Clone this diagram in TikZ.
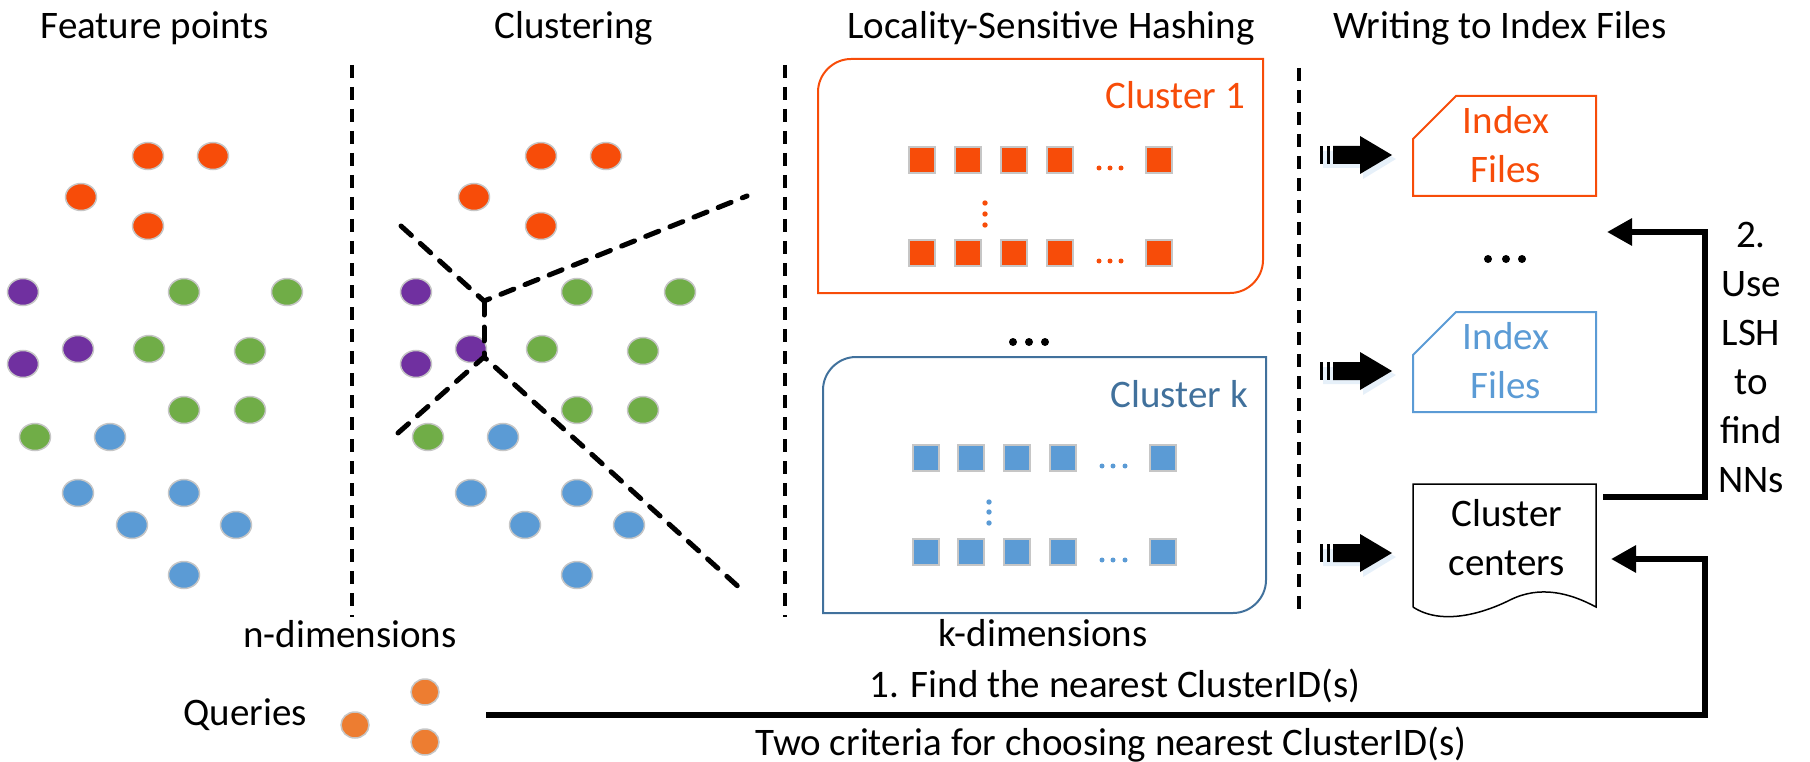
\documentclass[tikz,border=0pt]{standalone}
\usepackage{fontspec}
\setmainfont{Carlito}
\usetikzlibrary{arrows.meta}

\definecolor{hotorange}{RGB}{247,76,9}
\definecolor{qorange}{RGB}{237,125,49}
\definecolor{leafgreen}{RGB}{112,173,71}
\definecolor{plum}{RGB}{112,48,160}
\definecolor{skyblue}{RGB}{91,155,213}
\definecolor{deepblue}{RGB}{65,113,156}

% block arrow into the index column, #1 = y of its axis
\newcommand{\writearrow}[1]{%
  \fill[skyblue!25, opacity=0.6] (1323,#1-4) -- (1363,#1-4) -- (1363,#1-15) -- (1396,#1+4)
    -- (1363,#1+24) -- (1363,#1+13) -- (1323,#1+13) -- cycle;
  \fill (1320,#1-9) rectangle (1323,#1+9);
  \fill (1326.5,#1-9) rectangle (1330,#1+9);
  \fill (1333,#1-9) -- (1360,#1-9) -- (1360,#1-19) -- (1392,#1) -- (1360,#1+19)
    -- (1360,#1+9) -- (1333,#1+9) -- cycle;
}

\begin{document}
\begin{tikzpicture}[x=1pt,y=-1pt,
    txt/.style={font=\fontsize{39}{49}\selectfont, inner sep=0pt, anchor=base},
    multi/.style={font=\fontsize{39}{49}\selectfont, inner sep=0pt, align=center},
    sep/.style={line width=3.6pt, dash pattern=on 13pt off 9pt},
    cut/.style={line width=5pt, line cap=round, dash pattern=on 14pt off 12pt},
    dot/.style={draw=gray!45, line width=1.5pt},
    hashbox/.style={draw=gray!45, line width=1.5pt, minimum size=26pt, inner sep=0pt},
    conn/.style={line width=6pt, -{Triangle[length=25pt,width=26pt]}}]
  \useasboundingbox (0,0) rectangle (1810,762);

  % titles
  \node[txt] (tfeat) at (155,39) {Feature points};
  \node[txt] (tclus) at (574,39) {Clustering};
  \node[txt] (tlsh) at (1051,39) {Locality-Sensitive Hashing};
  \node[txt] (twrite) at (1500,39) {Writing to Index Files};

  % separators
  \draw[sep] (352,65) -- (352,617);
  \draw[sep] (785,65) -- (785,617);
  \draw[sep] (1299,68) -- (1299,612);

  % points, raw and clustered
  \foreach \dx in {0,393} {
    \foreach \px/\py in {148/156,213/156,81/197,148/226}
      \filldraw[dot, fill=hotorange] (\px+\dx,\py) ellipse [x radius=15.5, y radius=13.5];
    \foreach \px/\py in {23/292,78/349,23/364}
      \filldraw[dot, fill=plum] (\px+\dx,\py) ellipse [x radius=15.5, y radius=13.5];
    \foreach \px/\py in {184/292,287/292,149/349,250/351,184/410,250/410,35/437}
      \filldraw[dot, fill=leafgreen] (\px+\dx,\py) ellipse [x radius=15.5, y radius=13.5];
    \foreach \px/\py in {110/437,78/493,184/493,132/525,236/525,184/575}
      \filldraw[dot, fill=skyblue] (\px+\dx,\py) ellipse [x radius=15.5, y radius=13.5];
  }

  % cluster borders
  \coordinate (ja) at (484,301);
  \coordinate (jb) at (484,357);
  \draw[cut] (401,226) -- (ja) -- (747,196);
  \draw[cut] (ja) -- (jb);
  \draw[cut] (398,433) -- (jb) -- (742,590);

  % cluster 1
  \draw[hotorange, line width=2pt] (818,293) -- (818,92) .. controls (818,74) and (833,59) .. (851,59)
    -- (1263,59) -- (1263,260) .. controls (1263,278) and (1248,293) .. (1230,293) -- cycle;
  \node[txt, anchor=base east, text=hotorange] (cone) at (1245,109) {Cluster 1};
  \foreach \hy in {160,253} {
    \foreach \hx in {922,968,1014,1060,1159}
      \node[hashbox, fill=hotorange] at (\hx,\hy) {};
    \foreach \hx in {1099,1110,1121}
      \fill[hotorange] (\hx,\hy+8) circle (2.5);
  }
  \foreach \vy in {203,214,225}
    \fill[hotorange] (985,\vy) circle (2.7);

  % dots between clusters
  \foreach \hx in {1013,1029,1045}
    \fill (\hx,342) circle (4);

  % cluster k
  \draw[deepblue, line width=2pt] (823,613) -- (823,390) .. controls (823,372) and (838,357) .. (856,357)
    -- (1266,357) -- (1266,580) .. controls (1266,598) and (1251,613) .. (1233,613) -- cycle;
  \node[txt, anchor=base east, text=deepblue] (ck) at (1248,407) {Cluster k};
  \foreach \hy in {458,552} {
    \foreach \hx in {926,971,1017,1063,1163}
      \node[hashbox, fill=skyblue] at (\hx,\hy) {};
    \foreach \hx in {1102,1113,1125}
      \fill[skyblue] (\hx,\hy+8) circle (2.5);
  }
  \foreach \vy in {502,512,523}
    \fill[skyblue] (989,\vy) circle (2.7);

  % dimensions
  \node[txt] (ndim) at (350,647) {n-dimensions};
  \node[txt] (kdim) at (1043,646) {k-dimensions};

  % index files
  \draw[hotorange, line width=2pt] (1413,139) -- (1456,96) -- (1596,96) -- (1596,196) -- (1413,196) -- cycle;
  \node[multi, text=hotorange] (idxone) at (1506,145) {Index\\Files};
  \foreach \hx in {1488,1506,1522}
    \fill (\hx,259) circle (4);
  \draw[skyblue, line width=2pt] (1413,355) -- (1456,312) -- (1596,312) -- (1596,412) -- (1413,412) -- cycle;
  \node[multi, text=skyblue] (idxk) at (1506,361) {Index\\Files};

  % cluster centers
  \draw[line width=1.5pt] (1413,607) -- (1413,484) -- (1596,484) -- (1596,607)
    .. controls (1570,593) and (1540,585) .. (1510,600)
    .. controls (1480,615) and (1440,625) .. (1413,607);
  \node[multi] (ccen) at (1507,538) {Cluster\\centers};

  \writearrow{155}
  \writearrow{371}
  \writearrow{553}

  % queries
  \node[txt] (qlab) at (245,725) {Queries};
  \foreach \px/\py in {355/725,425/692,425/742}
    \filldraw[dot, fill=qorange] (\px,\py) ellipse [x radius=14, y radius=13];

  % search steps
  \coordinate (qstart) at (486,715);
  \coordinate (ccin) at (1611,559);
  \coordinate (ccout) at (1603,497);
  \coordinate (idxin) at (1607,232);
  \draw[conn] (qstart) -- (1705,715) |- (ccin);
  \draw[conn] (ccout) -- (1705,497) |- (idxin);
  \node[txt] (stepone) at (1115,697) {1. Find the nearest ClusterID(s)};
  \node[txt] (crit) at (1111,755) {Two criteria for choosing nearest ClusterID(s)};
  \node[multi] (steptwo) at (1751,357) {2.\\Use\\LSH\\to\\find\\NNs};
\end{tikzpicture}
\end{document}
